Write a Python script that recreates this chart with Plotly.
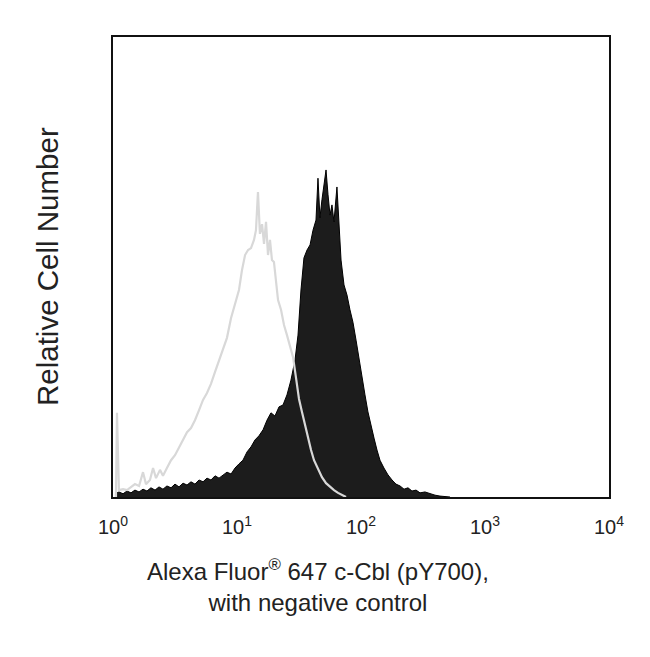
"""Flow cytometry histogram: c-Cbl (pY700) vs negative control."""

import plotly.graph_objects as go

# fluorescence intensity, in log10 decades
SAMPLE_LOG = [
    0.016, 0.048, 0.081, 0.113, 0.145, 0.177, 0.210, 0.242, 0.274, 0.306,
    0.339, 0.371, 0.403, 0.435, 0.468, 0.500, 0.532, 0.565, 0.597, 0.629,
    0.661, 0.694, 0.726, 0.758, 0.790, 0.823, 0.855, 0.887, 0.919, 0.952,
    0.984, 1.016, 1.048, 1.081, 1.113, 1.145, 1.177, 1.210, 1.242, 1.274,
    1.306, 1.339, 1.371, 1.403, 1.435, 1.468, 1.492, 1.516, 1.540, 1.565,
    1.589, 1.613, 1.637, 1.653, 1.669, 1.685, 1.702, 1.718, 1.734, 1.750,
    1.766, 1.782, 1.806, 1.823, 1.839, 1.863, 1.887, 1.911, 1.935, 1.960,
    1.984, 2.008, 2.032, 2.056, 2.081, 2.105, 2.129, 2.153, 2.185, 2.218,
    2.250, 2.282, 2.315, 2.347, 2.379, 2.411, 2.444, 2.476, 2.516, 2.556,
    2.597, 2.637, 2.718,
]
SAMPLE_COUNTS = [
    0.7, 1.1, 0.7, 1.3, 0.9, 1.5, 1.1, 1.7, 1.3, 2.0,
    1.5, 2.2, 1.7, 2.4, 2.0, 2.8, 2.2, 3.0, 2.6, 3.3,
    2.8, 3.7, 3.3, 4.1, 3.7, 4.6, 4.1, 4.8, 5.4, 5.0,
    6.3, 7.2, 8.0, 9.8, 10.9, 12.4, 13.3, 14.6, 16.7, 18.3,
    17.6, 19.6, 20.0, 22.2, 25.4, 29.8, 35.2, 45.0, 52.0, 53.7,
    54.8, 58.0, 60.2, 69.3, 60.7, 64.6, 67.8, 71.1, 65.7, 61.3,
    63.5, 59.8, 67.4, 58.0, 51.5, 46.1, 43.9, 40.7, 38.0, 34.1,
    29.8, 25.9, 22.2, 18.5, 15.2, 12.8, 10.2, 8.0, 6.3, 4.8,
    3.7, 2.8, 2.4, 1.7, 2.0, 1.3, 1.5, 0.9, 1.1, 0.7,
    0.4, 0.2, 0.0,
]

CONTROL_LOG = [
    0.024, 0.032, 0.048, 0.081, 0.113, 0.145, 0.177, 0.210, 0.242, 0.266,
    0.298, 0.323, 0.347, 0.379, 0.403, 0.435, 0.468, 0.500, 0.532, 0.565,
    0.597, 0.629, 0.661, 0.694, 0.726, 0.758, 0.790, 0.823, 0.855, 0.887,
    0.919, 0.952, 0.984, 1.016, 1.040, 1.065, 1.089, 1.113, 1.137, 1.153,
    1.169, 1.185, 1.202, 1.218, 1.234, 1.250, 1.266, 1.282, 1.298, 1.315,
    1.331, 1.355, 1.379, 1.403, 1.427, 1.452, 1.476, 1.500, 1.524, 1.548,
    1.573, 1.597, 1.621, 1.645, 1.685, 1.718, 1.750, 1.782, 1.815, 1.847,
    1.879,
]
CONTROL_COUNTS = [
    0.0, 18.3, 1.5, 1.7, 1.5, 2.2, 2.8, 2.4, 5.4, 2.8,
    3.7, 6.3, 4.1, 5.9, 4.6, 6.3, 8.0, 9.1, 10.7, 12.4,
    14.1, 15.0, 16.7, 18.9, 21.1, 22.6, 24.6, 27.2, 29.8, 32.0,
    34.6, 38.9, 41.7, 45.0, 49.3, 52.6, 53.7, 54.1, 55.9, 58.0,
    66.3, 57.2, 59.3, 55.0, 59.8, 52.6, 55.9, 51.5, 51.1, 46.1,
    42.8, 40.7, 37.4, 35.2, 33.0, 30.4, 25.9, 21.3, 18.5, 15.7,
    12.8, 10.2, 8.0, 6.5, 4.3, 3.0, 2.2, 1.5, 0.9, 0.4,
    0.0,
]

TICK_VALS = [1, 10, 100, 1000, 10000]
TICK_TEXT = ["10<sup>0</sup>", "10<sup>1</sup>", "10<sup>2</sup>",
             "10<sup>3</sup>", "10<sup>4</sup>"]

X_TITLE = "Alexa Fluor<sup>®</sup> 647 c-Cbl (pY700),<br>with negative control"
Y_TITLE = "Relative Cell Number"

FONT = "Arial, Liberation Sans, sans-serif"
TEXT_COLOR = "#222222"

fig = go.Figure()
fig.add_trace(go.Scatter(
    x=[10 ** v for v in SAMPLE_LOG], y=SAMPLE_COUNTS,
    mode="lines", fill="tozeroy",
    line=dict(color="#000000", width=1),
    fillcolor="#1c1c1c",
))
fig.add_trace(go.Scatter(
    x=[10 ** v for v in CONTROL_LOG], y=CONTROL_COUNTS,
    mode="lines",
    line=dict(color="#d8d8d8", width=2.2),
))

# page body adds an 8px offset, so margins are shifted to compensate
fig.update_layout(
    width=650, height=657,
    margin=dict(l=105, r=49, t=29, b=168),
    paper_bgcolor="white", plot_bgcolor="white",
    showlegend=False,
    font=dict(family=FONT, color=TEXT_COLOR, size=20),
    xaxis=dict(
        type="log", range=[0, 4],
        tickvals=TICK_VALS, ticktext=TICK_TEXT,
        ticks="", showgrid=False, zeroline=False,
        showline=True, mirror=True, linecolor="#111111", linewidth=2,
        tickfont=dict(size=20), ticklabelstandoff=11,
    ),
    yaxis=dict(
        range=[0, 100], showticklabels=False,
        ticks="", showgrid=False, zeroline=False,
        showline=True, mirror=True, linecolor="#111111", linewidth=2,
    ),
    annotations=[
        dict(text=X_TITLE, xref="paper", yref="paper", x=0.413, y=0,
             xanchor="center", yanchor="middle", yshift=-88, showarrow=False,
             font=dict(size=24, color=TEXT_COLOR)),
        dict(text=Y_TITLE, xref="paper", yref="paper", x=0, y=0.5,
             xanchor="center", yanchor="middle", xshift=-66, textangle=-90,
             showarrow=False, font=dict(size=29.5, color=TEXT_COLOR)),
    ],
)

fig.write_html("out.html")
